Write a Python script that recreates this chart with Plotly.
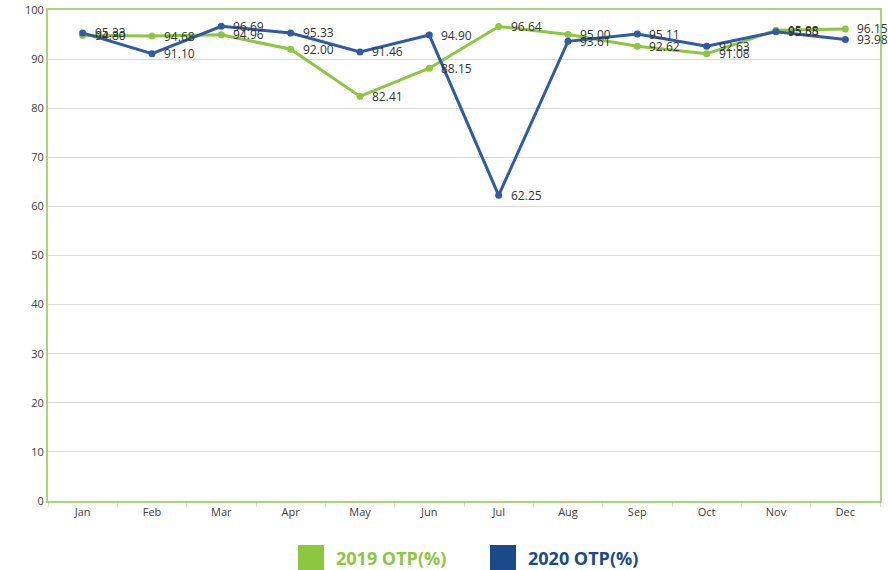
import plotly.graph_objects as go

months = ["Jan", "Feb", "Mar", "Apr", "May", "Jun", "Jul", "Aug", "Sep", "Oct", "Nov", "Dec"]
otp_2019 = [94.80, 94.68, 94.96, 92.00, 82.41, 88.15, 96.64, 95.00, 92.62, 91.08, 95.88, 96.15]
otp_2020 = [95.33, 91.10, 96.69, 95.33, 91.46, 94.90, 62.25, 93.61, 95.11, 92.63, 95.55, 93.98]
y_ticks = [0, 10, 20, 30, 40, 50, 60, 70, 80, 90, 100]
series_names = ["2019 OTP(%)", "2020 OTP(%)"]

GREEN = "#8DC63F"
BLUE = "#2E5AA6"
BLUE_TXT = "#1B4A8A"

fig = go.Figure()
for name, vals, col in [(series_names[0], otp_2019, GREEN), (series_names[1], otp_2020, BLUE)]:
    fig.add_trace(go.Scatter(
        x=months, y=vals, name=name, mode="lines+markers",
        line=dict(color=col, width=3),
        marker=dict(color=col, size=7),
        cliponaxis=False,
        showlegend=False,
    ))
    for m, v in zip(months, vals):
        fig.add_annotation(x=m, y=v, text=f"{v:.2f}", showarrow=False,
                           xanchor="left", yanchor="middle", xshift=10,
                           font=dict(family="Open Sans, sans-serif", size=12, color="#333333"))

fig.update_layout(
    width=888, height=570,
    margin=dict(l=48, r=8, t=10, b=69),
    paper_bgcolor="white", plot_bgcolor="white",
    showlegend=False,
    xaxis=dict(
        type="category", range=[-0.5, 11.5], automargin=False,
        showline=True, linecolor="#A9D47A", linewidth=2, mirror=True,
        showgrid=False, ticks="outside", tickcolor="#D9D9D9", ticklen=4,
        tickfont=dict(family="Open Sans, sans-serif", size=11, color="#404040"),
        tickson="boundaries",
    ),
    yaxis=dict(
        range=[0, 100], tickvals=y_ticks, automargin=False,
        showline=True, linecolor="#A9D47A", linewidth=2, mirror=True,
        showgrid=True, gridcolor="#D9D9D9", gridwidth=1,
        tickfont=dict(family="Open Sans, sans-serif", size=11, color="#404040"),
        zeroline=False,
    ),
)

# Legend drawn as swatches + text
leg = [(298, GREEN, GREEN, series_names[0]), (490, BLUE_TXT, BLUE_TXT, series_names[1])]
for x0, sw, tc, label in leg:
    fig.add_shape(type="rect", xref="paper", yref="paper",
                  x0=(x0 - 48) / 832, x1=(x0 + 26 - 48) / 832,
                  y0=(501 - 571) / 491, y1=(501 - 545) / 491,
                  fillcolor=sw, line=dict(width=0))
    fig.add_annotation(xref="paper", yref="paper", x=(x0 + 36 - 48) / 832,
                       y=(501 - 558) / 491, text=f"<b>{label}</b>", showarrow=False,
                       xanchor="left", yanchor="middle",
                       font=dict(family="Open Sans, sans-serif", size=18, color=tc))

fig.write_html("out.html", config={"displayModeBar": False},
               post_script="document.body.style.margin='0';document.body.style.overflow='hidden';")
